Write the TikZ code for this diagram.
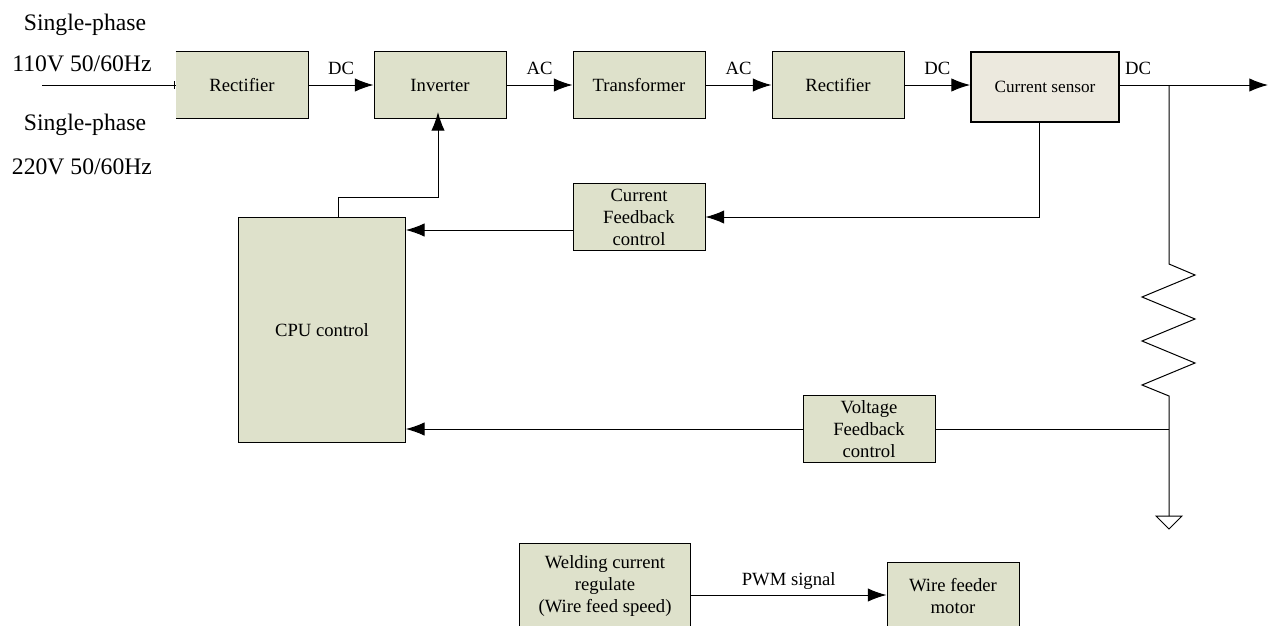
\documentclass[tikz,border=0pt]{standalone}
\usepackage{fontspec}
\setmainfont{Liberation Serif}
\usetikzlibrary{arrows.meta}
\definecolor{boxfill}{RGB}{222,225,203}
\definecolor{sensorfill}{RGB}{236,233,222}
\begin{document}
\begin{tikzpicture}[x=0.75pt,y=-0.75pt,>={Latex[length=14pt,width=10pt]},line width=0.75pt,
                    main node/.style={rectangle,draw,fill=boxfill,font=\fontsize{14}{16.5}\selectfont,align=center,inner sep=0pt},
                    lbl/.style={font=\fontsize{14}{16.5}\selectfont,inner sep=0pt},
                    big lbl/.style={font=\fontsize{17.75}{20}\selectfont,inner sep=0pt}]
  \useasboundingbox (0,0) rectangle (1269,625);

  \node[main node,draw=none,minimum width=99pt,minimum height=50pt] (rect1) at (242,85) {Rectifier};
  \node[main node,minimum width=99pt,minimum height=50pt] (inv) at (440,85) {Inverter};
  \node[main node,minimum width=99pt,minimum height=50pt] (trans) at (639,85) {Transformer};
  \node[main node,minimum width=99pt,minimum height=50pt] (rect2) at (838,85) {Rectifier};
  \node[main node,fill=sensorfill,line width=1.4pt,minimum width=111pt,minimum height=52pt,font=\fontsize{12.9}{16}\selectfont] (sensor) at (1045,87) {Current sensor};
  \node[main node,minimum width=99pt,minimum height=50pt] (cfb) at (639,217) {Current\\Feedback\\control};
  \node[main node,minimum width=125pt,minimum height=169pt] (cpu) at (322,330) {CPU control};
  \node[main node,minimum width=99pt,minimum height=50pt] (vfb) at (869,429) {Voltage\\Feedback\\control};
  \node[main node,minimum width=128pt,minimum height=63pt,anchor=north] (weld) at (605,543) {Welding current\\regulate\\(Wire feed speed)};
  \node[main node,minimum width=99pt,minimum height=51pt,anchor=north] (motor) at (953,562) {Wire feeder\\motor};

  \node[big lbl] (s1) at (85,25) {Single-phase};
  \node[big lbl] (v1) at (82,64) {110V 50/60Hz};
  \node[big lbl] (s2) at (85,125) {Single-phase};
  \node[big lbl] (v2) at (82,167) {220V 50/60Hz};

  \coordinate (in) at (42,85);
  \coordinate (node1) at (1169,85);
  \coordinate (out) at (1268,85);
  \coordinate (gnd) at (1169,516);
  \coordinate (zig1) at (1169,264);
  \coordinate (zig2) at (1169,396);
  \coordinate (vjoin) at (1169,429);
  \coordinate (invtip) at (438,112);

  \draw (rect1.north west) -- (rect1.north east) -- (rect1.south east) -- (rect1.south west);
  \draw (in) -- (rect1.west);
  \draw (rect1.west) ++(-1,-4) -- ++(0,8);
  \draw[->] (rect1) -- node[lbl,above=7.5pt] {DC} (inv);
  \draw[->] (inv) -- node[lbl,above=7.5pt] {AC} (trans);
  \draw[->] (trans) -- node[lbl,above=7.5pt] {AC} (rect2);
  \draw[->] (rect2) -- node[lbl,above=7.5pt] {DC} (sensor.west |- rect2);
  \draw[->] (sensor.east |- node1) -- (out);
  \node[lbl] (dcout) at (1138,68) {DC};
  \draw (node1) -- (zig1) -- ++(26,11) -- ++(-53,22) -- ++(53,22) -- ++(-53,22) -- ++(53,22) -- ++(-53,22) -- (zig2) -- (vjoin) -- (gnd);
  \draw (gnd) ++(-13,0) -- ++(26,0) -- ++(-13,13) -- cycle;
  \draw[->] (sensor.south -| 1039,0) |- (cfb.east);
  \draw[->] (cfb.west |- 0,230) -- (cpu.east |- 0,230);
  \draw[->] (vfb.west) -- (vfb.west -| cpu.east);
  \draw (vfb.east) -- (vjoin);
  \draw[->] (cpu.north -| 338,0) |- (438,197) -- (invtip);
  \draw[->] (weld.east |- 0,595) -- node[lbl,above=3.5pt] {PWM signal} (motor.west |- 0,595);
\end{tikzpicture}
\end{document}
